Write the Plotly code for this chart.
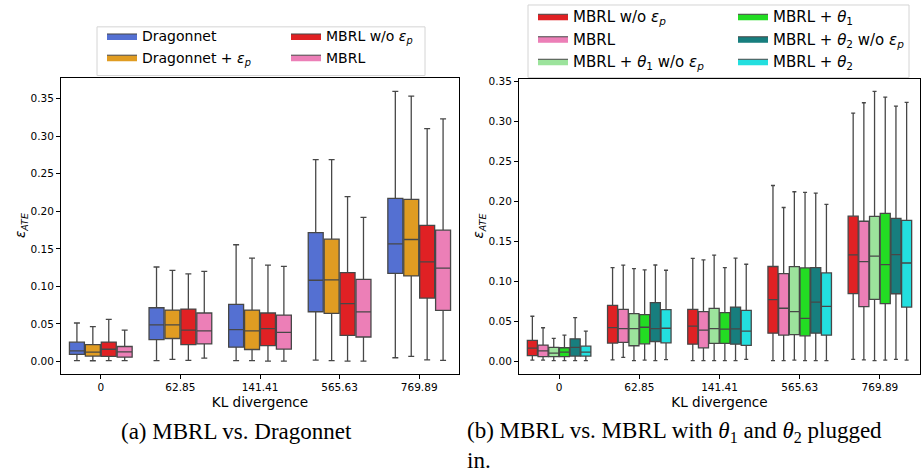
import plotly.graph_objects as go

# ---------------- data ----------------
categories = ["0", "62.85", "141.41", "565.63", "769.89"]

# each series: lower whisker, Q1, median, Q3, upper whisker per KL category
dragonnet = dict(
    lo=[0.001, 0.001, 0.001, 0.0018, 0.0049],
    q1=[0.0093, 0.0291, 0.019, 0.0662, 0.1174],
    med=[0.0141, 0.0486, 0.0424, 0.1081, 0.1567],
    q3=[0.0256, 0.0715, 0.0759, 0.1717, 0.2172],
    hi=[0.0512, 0.1258, 0.1554, 0.2688, 0.3597],
)
dragonnet_ep = dict(
    lo=[0.0009, 0.0026, 0.001, 0.001, 0.0066],
    q1=[0.0071, 0.0305, 0.0159, 0.064, 0.1139],
    med=[0.0124, 0.0486, 0.0406, 0.1086, 0.1624],
    q3=[0.0225, 0.0684, 0.0684, 0.1629, 0.2158],
    hi=[0.0463, 0.1214, 0.1377, 0.2688, 0.3535],
)
mbrl_wo = dict(
    lo=[0.001, 0.0015, 0.0005, 0.0005, 0.002],
    q1=[0.0068, 0.0224, 0.0211, 0.0348, 0.0844],
    med=[0.0162, 0.0418, 0.0436, 0.0769, 0.1327],
    q3=[0.0258, 0.0697, 0.0645, 0.1182, 0.1812],
    hi=[0.056, 0.1167, 0.1284, 0.2195, 0.31],
)
mbrl = dict(
    lo=[0.001, 0.0045, 0.0005, 0.0005, 0.0015],
    q1=[0.0056, 0.0233, 0.0165, 0.0325, 0.068],
    med=[0.0126, 0.0406, 0.0386, 0.066, 0.1244],
    q3=[0.0199, 0.0645, 0.0617, 0.1094, 0.1748],
    hi=[0.0416, 0.12, 0.1265, 0.192, 0.323],
)
mbrl_t1_wo = dict(
    lo=[0.0005, 0.0005, 0.0005, 0.0012, 0.0005],
    q1=[0.0054, 0.0191, 0.022, 0.0331, 0.077],
    med=[0.0099, 0.0406, 0.0406, 0.0617, 0.1313],
    q3=[0.017, 0.0592, 0.0659, 0.118, 0.181],
    hi=[0.0282, 0.1156, 0.1325, 0.2117, 0.3372],
)
mbrl_t1 = dict(
    lo=[0.0005, 0.0012, 0.0005, 0.0005, 0.0012],
    q1=[0.0054, 0.0215, 0.022, 0.0315, 0.0717],
    med=[0.0112, 0.0422, 0.0398, 0.0534, 0.1205],
    q3=[0.0166, 0.058, 0.0605, 0.1164, 0.1847],
    hi=[0.0323, 0.1139, 0.1168, 0.2108, 0.3301],
)
mbrl_t2_wo = dict(
    lo=[0.0005, 0.0005, 0.0005, 0.0005, 0.002],
    q1=[0.0062, 0.0244, 0.0211, 0.0348, 0.0841],
    med=[0.017, 0.0406, 0.0402, 0.0737, 0.133],
    q3=[0.0278, 0.0729, 0.0675, 0.1168, 0.1785],
    hi=[0.0543, 0.1201, 0.1288, 0.21, 0.3189],
)
mbrl_t2 = dict(
    lo=[0.0005, 0.0017, 0.0021, 0.0005, 0.0012],
    q1=[0.0062, 0.0228, 0.0195, 0.0323, 0.0675],
    med=[0.0112, 0.041, 0.0373, 0.0683, 0.1226],
    q3=[0.0186, 0.0642, 0.0634, 0.1102, 0.176],
    hi=[0.0373, 0.1135, 0.121, 0.1959, 0.3235],
)

EP = "<i>ε</i><sub><i>p</i></sub>"
T1 = "<i>θ</i><sub>1</sub>"
T2 = "<i>θ</i><sub>2</sub>"

# (name, data, fill colour)
left_series = [
    ("Dragonnet", dragonnet, "#5470d2"),
    ("Dragonnet + " + EP, dragonnet_ep, "#e09c22"),
    ("MBRL w/o " + EP, mbrl_wo, "#e02124"),
    ("MBRL", mbrl, "#ec7fb7"),
]
right_series = [
    ("MBRL w/o " + EP, mbrl_wo, "#e02124"),
    ("MBRL", mbrl, "#ec7fb7"),
    ("MBRL + " + T1 + " w/o " + EP, mbrl_t1_wo, "#9ce39c"),
    ("MBRL + " + T1, mbrl_t1, "#23dc23"),
    ("MBRL + " + T2 + " w/o " + EP, mbrl_t2_wo, "#177e7e"),
    ("MBRL + " + T2, mbrl_t2, "#23dfdf"),
]
# legend column assignment (column-major like matplotlib ncol=2)
left_legends = ["legend", "legend", "legend2", "legend2"]
right_legends = ["legend3", "legend3", "legend3", "legend4", "legend4", "legend4"]

W, H = 922, 476
EDGE = "#474747"
FONT = "DejaVu Sans"

def px(x):
    return x / W

def py(y):
    return 1 - y / H

fig = go.Figure()

def add_panel(series, legends, xa, ya):
    for i, (name, d, col) in enumerate(series):
        fig.add_trace(go.Box(
            x=categories, q1=d["q1"], median=d["med"], q3=d["q3"],
            lowerfence=d["lo"], upperfence=d["hi"],
            name=name, fillcolor=col, line=dict(color=EDGE, width=1.3),
            whiskerwidth=0.4, boxpoints=False, showlegend=False,
            xaxis=xa, yaxis=ya, hoverinfo="skip", offsetgroup=str(i),
        ))
    for i, (name, d, col) in enumerate(series):
        # legend proxy (wide swatch)
        fig.add_trace(go.Scatter(
            x=[None], y=[None], mode="lines", fill="toself", fillcolor=col,
            line=dict(color=EDGE, width=1), name=name, legend=legends[i],
            xaxis=xa, yaxis=ya, showlegend=True, hoverinfo="skip",
        ))

add_panel(left_series, left_legends, "x", "y")
add_panel(right_series, right_legends, "x2", "y2")

axis_common = dict(
    showline=True, mirror=True, linecolor="black", linewidth=1,
    ticks="outside", ticklen=4, tickwidth=1, tickcolor="black",
    showgrid=False, zeroline=False,
    tickfont=dict(family=FONT, size=10.5, color="black"),
)
yticks = [0, 0.05, 0.1, 0.15, 0.2, 0.25, 0.3, 0.35]

fig.update_layout(
    width=W, height=H, margin=dict(l=0, r=0, t=0, b=0),
    paper_bgcolor="white", plot_bgcolor="white",
    boxmode="group", boxgap=0.2, boxgroupgap=0.06,
    font=dict(family=FONT, color="black"),
    xaxis=dict(domain=[px(61), px(459)], type="category", categoryorder="array",
               categoryarray=categories, range=[-0.5, 4.5], anchor="y",
               title=dict(text="KL divergence", font=dict(size=13.6), standoff=5),
               **axis_common),
    yaxis=dict(domain=[py(373), py(75)], range=[-0.0163, 0.3782], anchor="x",
               tickvals=yticks, tickformat=".2f",
               title=dict(text="<i>ε</i><sub><i>ATE</i></sub>", font=dict(size=13.6), standoff=1),
               **axis_common),
    xaxis2=dict(domain=[px(519), px(920)], type="category", categoryorder="array",
                categoryarray=categories, range=[-0.5, 4.5], anchor="y2",
                title=dict(text="KL divergence", font=dict(size=13.6), standoff=5),
                **axis_common),
    yaxis2=dict(domain=[py(373), py(76)], range=[-0.0158, 0.3533], anchor="x2",
                tickvals=yticks, tickformat=".2f",
                title=dict(text="<i>ε</i><sub><i>ATE</i></sub>", font=dict(size=13.6), standoff=1),
                **axis_common),
)

leg_common = dict(orientation="v", bgcolor="rgba(0,0,0,0)", borderwidth=0,
                  xanchor="left", yanchor="top", traceorder="normal")
fig.update_layout(
    legend=dict(x=px(102), y=py(17.5), font=dict(family=FONT, size=14), **leg_common),
    legend2=dict(x=px(286), y=py(17.5), font=dict(family=FONT, size=14), **leg_common),
    legend3=dict(x=px(533), y=py(-3), font=dict(family=FONT, size=15), **leg_common),
    legend4=dict(x=px(733), y=py(-3), font=dict(family=FONT, size=15), **leg_common),
)

# legend frames
fig.add_shape(type="rect", xref="paper", yref="paper",
              x0=px(97), x1=px(425), y0=py(73), y1=py(24),
              line=dict(color="#d4d4d4", width=1), fillcolor="white", layer="below")
fig.add_shape(type="rect", xref="paper", yref="paper",
              x0=px(528), x1=px(909), y0=py(75), y1=py(2),
              line=dict(color="#d4d4d4", width=1), fillcolor="white", layer="below")

# captions
fig.add_annotation(text="(a) MBRL vs. Dragonnet", xref="paper", yref="paper",
                   x=px(236), y=py(417), xanchor="center", yanchor="top",
                   showarrow=False, font=dict(family="Liberation Serif", size=23, color="black"))
fig.add_annotation(text="(b) MBRL vs. MBRL with <i>θ</i><sub>1</sub> and <i>θ</i><sub>2</sub> plugged<br>in.",
                   xref="paper", yref="paper", x=px(465), y=py(416), xanchor="left",
                   yanchor="top", align="left", showarrow=False,
                   font=dict(family="Liberation Serif", size=23, color="black"))

fig.write_html("out.html", config={"displayModeBar": False},
               post_script="document.body.style.margin='0';document.body.style.overflow='hidden';")
